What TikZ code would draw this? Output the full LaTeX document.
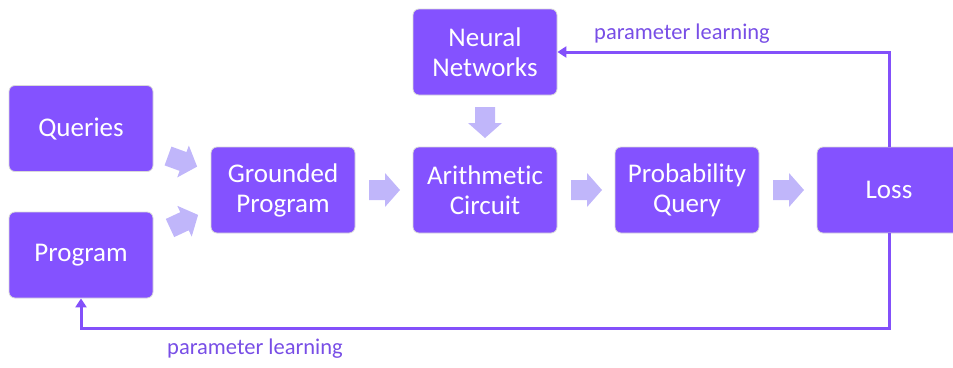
\documentclass[tikz,border=0pt]{standalone}
\usepackage{fontspec}
\setmainfont[Ligatures=CommonOff]{Carlito}
\usetikzlibrary{arrows.meta}
\definecolor{boxpurple}{RGB}{132,82,255}
\definecolor{linepurple}{RGB}{131,80,250}
\definecolor{lblpurple}{RGB}{120,78,230}
\definecolor{arrowlav}{RGB}{192,182,250}
\tikzset{
  stagebox/.style={rectangle, rounded corners=6pt, fill=boxpurple, draw=black!15, line width=0.8pt,
    text=white, minimum width=144pt, minimum height=86pt, align=center,
    font=\fontsize{27}{30}\selectfont, inner sep=0pt},
  fb/.style={draw=linepurple, line width=3pt, -{Triangle[width=11pt,length=9pt]}},
  lbl/.style={text=lblpurple, font=\fontsize{22.5}{26}\selectfont, inner sep=0pt},
  blockarrow/.pic={\fill[arrowlav] (0,-10) -- (16,-10) -- (16,-17) -- (31,0) -- (16,17) -- (16,10) -- (0,10) -- cycle;}
}
\begin{document}
\begin{tikzpicture}[x=1pt,y=-1pt]
\useasboundingbox (0,0) rectangle (953,367);
\node[stagebox] (queries) at (81,128.5) {Queries};
\node[stagebox] (program) at (81,255) {Program};
\node[stagebox] (grounded) at (283,190) {Grounded\\Program};
\node[stagebox] (neural) at (485,52) {Neural\\Networks};
\node[stagebox] (arith) at (485,190) {Arithmetic\\Circuit};
\node[stagebox] (prob) at (687,190) {Probability\\Query};
\node[stagebox] (loss) at (889,190) {Loss};
\pic[rotate=-20] at (168,156) {blockarrow};
\pic[rotate=25] at (170,228) {blockarrow};
\pic at (369,190) {blockarrow};
\pic at (571,190) {blockarrow};
\pic at (773,190) {blockarrow};
\pic[rotate=-90] at (485,107) {blockarrow};
\draw[fb] (loss.north) |- (neural.east);
\draw[fb] (loss.south) -- ++(0,95) -| (program.south);
\node[lbl] (lbltop) at (682,34) {parameter learning};
\node[lbl] (lblbot) at (255,349) {parameter learning};
\end{tikzpicture}
\end{document}
